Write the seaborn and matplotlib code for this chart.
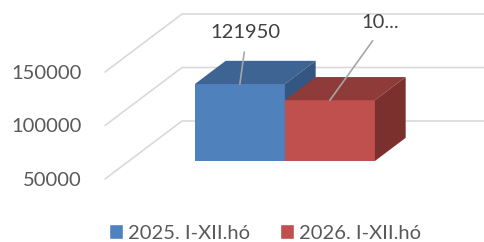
import matplotlib
matplotlib.use("Agg")
import matplotlib.pyplot as plt
import matplotlib.transforms as mtransforms
from matplotlib.patches import Polygon
from matplotlib.lines import Line2D
import seaborn as sns
import pandas as pd
import numpy as np

# data
series = ["2025. I-XII.hó", "2026. I-XII.hó"]
values = [121950, 106800]
value_labels = ["121950", "10..."]
yticks = [50000, 100000, 150000]

# colours (front / top / side faces)
front_colors = ["#4f81bd", "#c0504d"]
top_colors = ["#3d6493", "#8f3b39"]
side_colors = ["#335683", "#7b302e"]
TEXT = "#595959"
GRID = "#d9d9d9"
FS = 14.5

sns.set_theme(style="white")
plt.rcParams["font.family"] = ["Lato", "DejaVu Sans"]

W, H = 484, 242
fig = plt.figure(figsize=(W / 100, H / 100), dpi=100)
# front plane of the 3d box (pixels from top-left)
left, right, top, bottom = 105, 407, 72, 179
ax = fig.add_axes([left / W, 1 - bottom / H, (right - left) / W, (bottom - top) / H])
ax.patch.set_visible(False)

df = pd.DataFrame({"cat": ["I-XII"] * len(values), "value": values, "series": series})
sns.barplot(data=df, x="cat", y="value", hue="series", palette=front_colors,
            saturation=1, width=0.8, ax=ax)
bars = [p for p in ax.patches
        if np.isfinite(p.get_height()) and p.get_height() > 0 and p.get_width() > 0]
bars = sorted(bars, key=lambda p: p.get_x())

# x=0 sits at pixel 261, 0.4 units = 90 px
ppu = 225
ax.set_xlim(-(261 - left) / ppu, (right - 261) / ppu)
ax.set_ylim(yticks[0], yticks[-1])

# depth offsets in pixels for the oblique projection
DX, DY = 77, 58
d_front, d_back = 0.31, 0.71


def shift(d):
    return ax.transData + mtransforms.ScaledTranslation(DX * d / 100, DY * d / 100, fig.dpi_scale_trans)


ident = mtransforms.IdentityTransform()

# side wall + back wall gridlines
xl = ax.get_xlim()[0]
for v in yticks:
    x0, y0 = ax.transData.transform((xl, v))
    x1, y1 = x0 + DX, y0 + DY
    ln = Line2D([x0, x1, x1 + (right - left)], [y0, y1, y1], color=GRID, lw=1.2,
                transform=ident, zorder=0.5, clip_on=False)
    ax.add_artist(ln)

# 3d bars
base = yticks[0]
dd = d_back - d_front
for i, p in enumerate(bars):
    bx, bw, bh = p.get_x(), p.get_width(), p.get_height()
    p.set_y(base)
    p.set_height(bh - base)
    p.set_transform(shift(d_front))
    p.set_clip_on(False)
    p.set_linewidth(0)
    p.set_zorder(2 + i)
    tr = shift(d_front)
    ftl = tr.transform((bx, bh))
    ftr = tr.transform((bx + bw, bh))
    fbr = tr.transform((bx + bw, base))
    off = (DX * dd, DY * dd)
    btl = ftl + off
    btr = ftr + off
    bbr = fbr + off
    ax.add_patch(Polygon([ftl, ftr, btr, btl], closed=True, facecolor=top_colors[i],
                         lw=0, transform=ident, clip_on=False, zorder=2 + i))
    ax.add_patch(Polygon([ftr, fbr, bbr, btr], closed=True, facecolor=side_colors[i],
                         lw=0, transform=ident, clip_on=False, zorder=2 + i))

# data labels with leader lines
label_offsets = [(6, 52), (50, 78)]
for i, p in enumerate(bars):
    bx, bw = p.get_x(), p.get_width()
    ax.annotate(value_labels[i], xy=(bx + bw / 2, values[i]), xycoords=shift(d_front),
                xytext=label_offsets[i], textcoords="offset pixels",
                ha="center", va="center", fontsize=FS, color="#404040",
                annotation_clip=False, zorder=10,
                arrowprops=dict(arrowstyle="-", color="#a6a6a6", lw=1.2,
                                shrinkA=6, shrinkB=0, relpos=(0.5, 0)))

ax.set_yticks(yticks)
ax.set_yticklabels([str(v) for v in yticks])
ax.set_xticks([])
ax.set_xlabel("")
ax.set_ylabel("")
ax.tick_params(axis="y", length=0, pad=17, labelsize=FS, colors=TEXT)
sns.despine(ax=ax, left=True, bottom=True)

sns.move_legend(ax, "center", bbox_to_anchor=(265 / W, 1 - 233 / H),
                bbox_transform=fig.transFigure, ncol=2, title=None, frameon=False,
                fontsize=FS, labelcolor=TEXT, handlelength=0.7, handleheight=0.7,
                handletextpad=0.25, columnspacing=1.45, borderpad=0, borderaxespad=0)

fig.savefig("out.png", dpi=100, facecolor="white")
